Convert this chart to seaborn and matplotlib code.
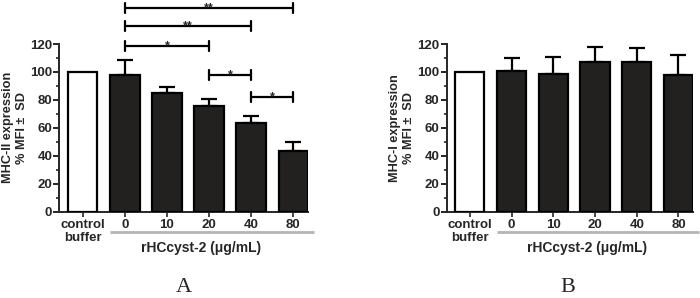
import matplotlib
matplotlib.use("Agg")
import matplotlib.pyplot as plt
import seaborn as sns
import numpy as np
import pandas as pd

sns.set_style("ticks")
plt.rcParams['font.family'] = ['Liberation Sans', 'DejaVu Sans']
plt.rcParams['font.weight'] = 'bold'

categories = ["control\nbuffer", "0", "10", "20", "40", "80"]
mhc2_mean = [100, 98.0, 84.7, 75.6, 63.7, 43.4]
mhc2_sd = [0, 10.3, 4.3, 5.3, 4.6, 6.3]
mhc1_mean = [100, 100.9, 98.8, 107.1, 107.1, 97.8]
mhc1_sd = [0, 8.9, 11.7, 10.8, 9.8, 14.3]
bar_colors = ["white", "#231f20", "#231f20", "#231f20", "#231f20", "#231f20"]

# significance brackets for panel A: (start index, end index, height, label)
sig_start = [1, 1, 1, 3, 4]
sig_end = [5, 4, 3, 4, 5]
sig_y = [145.8, 132.9, 118.3, 97.6, 81.9]
sig_label = ["**", "**", "*", "*", "*"]

fig = plt.figure(figsize=(7.0, 2.98), dpi=100)
axA = fig.add_axes([0.0847, 0.2896, 0.3553, 0.5627])
axB = fig.add_axes([0.6381, 0.2896, 0.3520, 0.5627])


def panel(ax, means, sds, ylabel, label_x):
    df = pd.DataFrame({"cat": categories, "val": means})
    sns.barplot(data=df, x="cat", y="val", hue="cat", palette=bar_colors,
                legend=False, edgecolor="black", linewidth=1.6, width=0.7,
                ax=ax, order=categories, hue_order=categories, zorder=3)
    xs = np.arange(1, len(categories))
    ax.errorbar(xs, means[1:], yerr=[np.zeros(len(xs)), sds[1:]], fmt="none",
                ecolor="black", elinewidth=1.6, capsize=5.5, capthick=1.6,
                zorder=2)
    ax.set_xlim(-0.556, 5.35)
    ax.set_ylim(0, 120)
    ax.set_yticks(np.arange(0, 121, 20))
    ax.set_yticks(np.arange(10, 120, 20), minor=True)
    ax.tick_params(axis="y", which="major", length=4, width=1.4, labelsize=9.5, pad=1)
    ax.tick_params(axis="y", which="minor", length=2.5, width=1.2)
    ax.tick_params(axis="x", which="major", length=3.5, width=1.2, labelsize=9.5, pad=1.5)
    for lbl in ax.get_yticklabels():
        lbl.set_fontweight("bold")
    for lbl in ax.get_xticklabels():
        lbl.set_fontweight("bold")
        lbl.set_verticalalignment("top")
        lbl.set_linespacing(1.1)
    ax.set_xlabel("")
    ax.set_ylabel(ylabel, fontsize=9.2, fontweight="bold", linespacing=1.2)
    ax.yaxis.set_label_coords(label_x, 0.5)
    for s in ["top", "right"]:
        ax.spines[s].set_visible(False)
    for s in ["left", "bottom"]:
        ax.spines[s].set_linewidth(1.4)
    # gray group line and group label
    ax.plot([0.65, 5.5], [-14.7, -14.7], color="#b4b4b4", lw=2.0,
            clip_on=False, solid_capstyle="butt")
    ax.text(2.8, -26, "rHCcyst-2 (\u03bcg/mL)", ha="center", va="center",
            fontsize=10, fontweight="bold")


panel(axA, mhc2_mean, mhc2_sd, "MHC-II expression\n% MFI \u00b1  SD", -0.126)
panel(axB, mhc1_mean, mhc1_sd, "MHC-I expression\n% MFI \u00b1  SD", -0.129)

for x0, x1, y, lab in zip(sig_start, sig_end, sig_y, sig_label):
    axA.plot([x0, x1], [y, y], color="black", lw=1.6, clip_on=False)
    for xe in (x0, x1):
        axA.plot([xe, xe], [y - 3.6, y + 3.6], color="black", lw=1.6, clip_on=False)
    axA.text((x0 + x1) / 2, y - 2.0, lab, ha="center", va="baseline",
             fontsize=9, fontweight="bold", clip_on=False)

fig.text(184 / 700, 1 - 287 / 298, "A", ha="center", va="center",
         fontsize=16, family="Liberation Serif", fontweight="normal")
fig.text(568 / 700, 1 - 287 / 298, "B", ha="center", va="center",
         fontsize=16, family="Liberation Serif", fontweight="normal")

fig.savefig("out.png", dpi=100)
